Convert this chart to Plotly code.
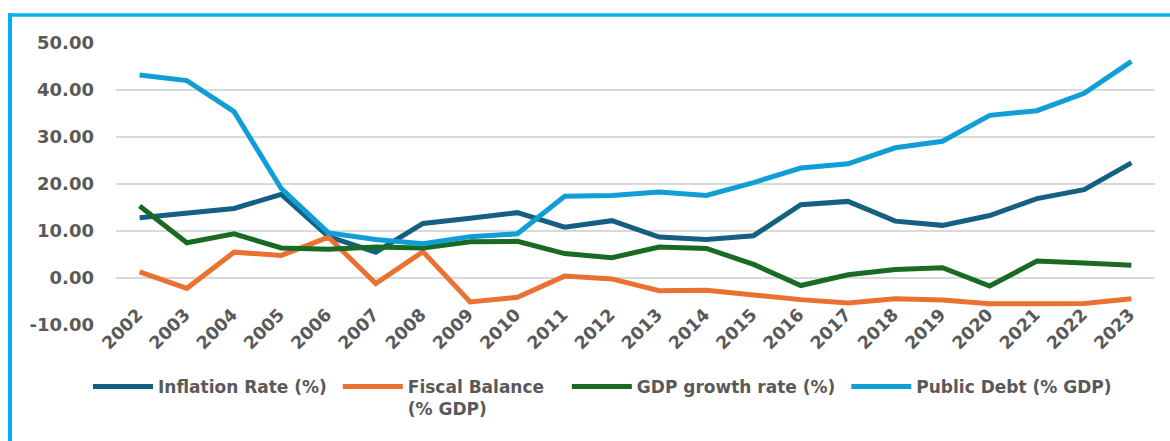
import plotly.graph_objects as go

years = [str(y) for y in range(2002, 2024)]

inflation = [12.8, 13.9, 14.8, 17.8, 8.8, 5.5, 11.6, 12.7, 13.9, 10.8, 12.2, 8.7,
             8.2, 9.0, 15.6, 16.3, 12.1, 11.2, 13.3, 16.9, 18.8, 24.5]
fiscal = [1.3, -2.2, 5.5, 4.8, 8.7, -1.2, 5.6, -5.1, -4.1, 0.4, -0.2, -2.7,
          -2.6, -3.7, -4.6, -5.3, -4.4, -4.7, -5.5, -5.5, -5.4, -4.4]
gdp = [15.3, 7.5, 9.4, 6.4, 6.1, 6.6, 6.4, 7.7, 7.8, 5.2, 4.3, 6.6,
       6.3, 2.9, -1.6, 0.7, 1.8, 2.2, -1.7, 3.6, 3.2, 2.7]
debt = [43.2, 42.0, 35.4, 19.0, 9.6, 8.2, 7.3, 8.8, 9.4, 17.4, 17.55, 18.3,
        17.55, 20.3, 23.4, 24.3, 27.7, 29.1, 34.6, 35.6, 39.3, 46.1]

series_names = ["Inflation Rate (%)\u00a0", "Fiscal Balance\u00a0\u00a0\u00a0<br>(% GDP)",
                "GDP growth rate (%)\u00a0", "Public Debt (% GDP)"]
colors = ["#156082", "#E97132", "#196B24", "#0F9ED5"]

y_tickvals = [-10, 0, 10, 20, 30, 40, 50]
y_ticktext = ["-10.00", "0.00", "10.00", "20.00", "30.00", "40.00", "50.00"]

fig = go.Figure()
for name, vals, col in zip(series_names, [inflation, fiscal, gdp, debt], colors):
    fig.add_trace(go.Scatter(x=years, y=vals, mode="lines", name=name,
                             line=dict(color=col, width=5)))

W, H = 1170, 441
ml, mr, mt, mb = 116, 15, 43, 116
pw, ph = W - ml - mr, H - mt - mb

def px_x(p):
    return (p - ml) / pw

def px_y(p):
    return 1 - (p - mt) / ph

border = "#00B0F0"
shapes = [
    dict(type="line", xref="paper", yref="paper", x0=px_x(8), x1=px_x(1172),
         y0=px_y(15), y1=px_y(15), line=dict(color=border, width=3.5)),
    dict(type="line", xref="paper", yref="paper", x0=px_x(10), x1=px_x(10),
         y0=px_y(13), y1=px_y(445), line=dict(color=border, width=4)),
]

fam = "DejaVu Sans, Verdana, sans-serif"
ytickfont = dict(family=fam, size=18, color="#595959", weight="bold")
xtickfont = dict(family=fam, size=17.5, color="#595959", weight="bold")

fig.update_layout(
    width=W, height=H,
    margin=dict(l=ml, r=mr, t=mt, b=mb, autoexpand=False),
    paper_bgcolor="white", plot_bgcolor="white",
    showlegend=True,
    shapes=shapes,
    xaxis=dict(type="category", tickangle=-45, tickfont=xtickfont,
               showgrid=False, showline=False, ticks="", zeroline=False,
               range=[-0.5, len(years) - 0.5], automargin=False,
               ticklabelstandoff=-25, ticklabelshift=-2),
    yaxis=dict(range=[-10, 50], tickvals=y_tickvals, ticktext=y_ticktext,
               tickfont=ytickfont, showgrid=True, gridcolor="#D9D9D9",
               gridwidth=1.5, zeroline=False, showline=False, ticks="",
               ticklabelstandoff=21, automargin=False),
    legend=dict(orientation="h", x=px_x(88), y=px_y(369), xanchor="left",
                yanchor="top", valign="top",
                font=dict(family=fam, size=17, color="#595959", weight="bold"),
                bgcolor="rgba(0,0,0,0)", itemwidth=60, tracegroupgap=0),
)

fig.write_html("out.html", post_script="document.body.style.margin='0';",
               config={"displayModeBar": False})
